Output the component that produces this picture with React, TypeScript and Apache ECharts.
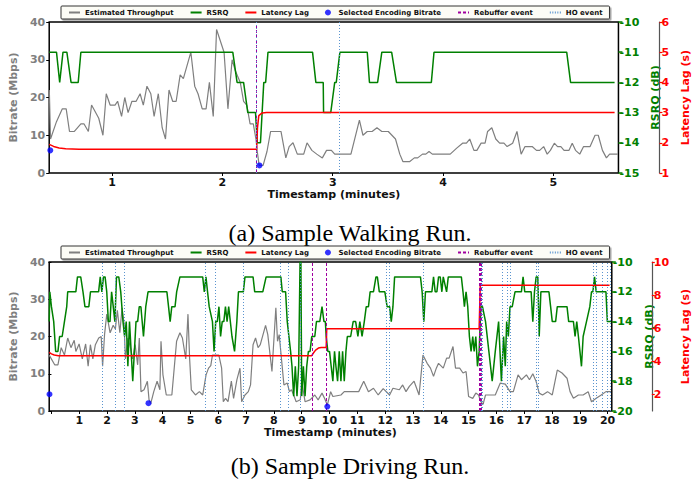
import React, { useEffect, useRef } from "react";
import * as echarts from "echarts";

// ---------------- (a) Walking run ----------------
const walkThroughput: number[][] = [
  [0.431, 22], [0.442, 9], [0.496, 13.6], [0.549, 17], [0.584, 17], [0.614, 11], [0.658, 11], [0.717, 13], [0.746, 13], [0.785, 11],
  [0.814, 18], [0.879, 14.5], [0.917, 10], [0.947, 21], [0.982, 18], [1.027, 18], [1.05, 19], [1.086, 15], [1.115, 20], [1.145, 16],
  [1.18, 19], [1.218, 19], [1.254, 21], [1.283, 18], [1.316, 23], [1.351, 21], [1.381, 15], [1.419, 21], [1.454, 12], [1.484, 9],
  [1.516, 22], [1.549, 19], [1.581, 19], [1.617, 26], [1.646, 25], [1.714, 32], [1.749, 23], [1.779, 21], [1.817, 17], [1.852, 17],
  [1.882, 24], [1.917, 15], [1.947, 38], [2.015, 32], [2.05, 17], [2.088, 30], [2.118, 27], [2.162, 24], [2.192, 19], [2.221, 18],
  [2.251, 13], [2.28, 13], [2.304, 9], [2.316, 5.7], [2.333, 2], [2.369, 2], [2.404, 5.7], [2.437, 11], [2.531, 11], [2.575, 4],
  [2.605, 7], [2.64, 8], [2.679, 5], [2.737, 5], [2.767, 8], [2.811, 6], [2.855, 5], [2.906, 4], [2.944, 6], [2.988, 6],
  [3.018, 5], [3.165, 5], [3.242, 14], [3.274, 10], [3.313, 11], [3.357, 11], [3.401, 12], [3.445, 11], [3.504, 11], [3.569, 9],
  [3.608, 5], [3.637, 3], [3.696, 3], [3.74, 4], [3.77, 4], [3.814, 5], [3.844, 5], [3.873, 5.7], [3.903, 5], [4.065, 5],
  [4.124, 6.6], [4.177, 7.9], [4.212, 7.9], [4.242, 9], [4.28, 6], [4.307, 6], [4.345, 7.9], [4.381, 7.9], [4.404, 11], [4.442, 12],
  [4.478, 9], [4.513, 7.9], [4.552, 7.9], [4.581, 7], [4.631, 7.9], [4.67, 11], [4.708, 5], [4.743, 7], [4.808, 7], [4.847, 6],
  [4.876, 6], [4.912, 7], [4.944, 5], [4.973, 6], [5.009, 7.9], [5.038, 7], [5.068, 7], [5.097, 6], [5.142, 6], [5.171, 7.9],
  [5.201, 6], [5.239, 5], [5.274, 7], [5.333, 7], [5.378, 10], [5.407, 10], [5.445, 6], [5.481, 4], [5.51, 5], [5.584, 5],
];
const walkRsrq: number[][] = [
  [0.43, -11], [0.496, -11], [0.525, -12], [0.555, -11], [0.59, -11], [0.628, -12], [0.693, -12], [0.717, -11], [2.094, -11], [2.133, -12],
  [2.192, -12], [2.23, -13], [2.3, -13], [2.316, -14], [2.345, -14], [2.375, -12], [2.392, -12], [2.413, -11], [2.817, -11], [2.847, -12],
  [2.914, -12], [2.917, -13], [2.982, -13], [3.018, -12], [3.032, -12], [3.065, -11], [3.313, -11], [3.333, -12], [3.407, -12], [3.445, -11],
  [3.534, -11], [3.578, -12], [3.894, -12], [3.918, -11], [5.121, -11], [5.156, -12], [5.555, -12],
];
const walkLatency: number[][] = [
  [0.43, 1.95], [0.47, 1.88], [0.52, 1.83], [0.58, 1.8], [0.7, 1.79], [2.31, 1.79], [2.318, 2.5], [2.33, 2.9], [2.36, 2.99], [2.4, 3.0], [5.555, 3.0],
];
const walkBitrate: number[][] = [[0.44, 6], [2.336, 2]];
const walkRebuffer: number[] = [2.315];
const walkHO: number[] = [2.308, 3.065];
const walkTicks: number[] = [1, 2, 3, 4, 5];

// ---------------- (b) Driving run ----------------
const driveThroughput: number[][] = [
  [-0.08, 15], [0.117, 12.4], [0.234, 12.4], [0.351, 17], [0.468, 15], [0.585, 19.6], [0.702, 17], [0.819, 19], [0.878, 16], [0.995, 18],
  [1.11, 14], [1.23, 18], [1.32, 12], [1.4, 17.8], [1.49, 14], [1.58, 17.8], [1.7, 19.6], [1.79, 20], [1.84, 12], [1.91, 20.5],
  [1.99, 26], [2.11, 21], [2.22, 23], [2.3, 22], [2.37, 27], [2.46, 21], [2.54, 27.7], [2.61, 23.6], [2.66, 14], [2.75, 19.6],
  [2.84, 17], [2.92, 14], [3.01, 17.8], [3.1, 12.4], [3.16, 19.6], [3.22, 5.2], [3.33, 5.7], [3.45, 8], [3.51, 3], [3.57, 2],
  [3.68, 5.2], [3.8, 8], [3.9, 5.7], [3.94, 18.7], [4.01, 9.7], [4.13, 4.3], [4.33, 4.3], [4.5, 18.7], [4.62, 21], [4.71, 19.6],
  [4.83, 14], [4.91, 26], [4.97, 14], [5.03, 5.7], [5.18, 4.3], [5.32, 5.2], [5.44, 4.3], [5.56, 9.7], [5.65, 11.5], [5.73, 12.2],
  [5.79, 15], [6.02, 15], [6.12, 11.5], [6.18, 2.5], [6.26, 3.4], [6.35, 2.5], [6.47, 8], [6.55, 3.4], [6.67, 8.4], [6.78, 11.5],
  [6.84, 2.5], [6.96, 4.3], [7.08, 5.2], [7.16, 7], [7.25, 17.8], [7.34, 19.6], [7.43, 17], [7.51, 17.8], [7.7, 23], [7.78, 20.5],
  [7.93, 10.6], [8.07, 27.7], [8.13, 18.7], [8.19, 20.5], [8.36, 7], [8.48, 7.5], [8.56, 5.2], [8.63, 5.7], [8.71, 4.3], [8.8, 2.5],
  [8.95, 3], [9.0, 8], [9.12, 2.5], [9.3, 3], [9.47, 4.3], [9.59, 3], [9.73, 4.8], [9.82, 3.4], [9.92, 1.6], [10.04, 5.2],
  [10.12, 3.9], [10.41, 4.3], [10.53, 5.2], [11.05, 5.2], [11.23, 8], [11.4, 5.2], [11.58, 6.1], [11.75, 4.3], [11.93, 6], [12.16, 4.3],
  [12.28, 6.1], [12.51, 5.7], [12.63, 7], [12.75, 5.2], [12.87, 6.6], [13.04, 8], [13.22, 4.3], [13.36, 15], [13.51, 12.8], [13.63, 11.5],
  [13.74, 9.3], [13.84, 11.5], [13.92, 12.8], [14.09, 11.5], [14.21, 14.2], [14.3, 14.2], [14.44, 17.3], [14.53, 11.5], [14.68, 11.5], [14.8, 10.2],
  [14.91, 10.6], [15.0, 3.9], [15.15, 3.4], [15.26, 4.8], [15.36, 4.3], [15.44, 2.5], [15.52, 1.8], [15.61, 4.3], [15.96, 4.3], [16.14, 7.5],
  [16.32, 7.2], [16.49, 5.2], [16.61, 5.2], [16.78, 9.7], [16.9, 8.4], [17.08, 9.7], [17.19, 8.4], [17.31, 10], [17.43, 7.9], [17.54, 4.8],
  [17.66, 4.3], [17.84, 5.2], [18.01, 4.3], [18.19, 11], [18.36, 10.2], [18.54, 8.8], [18.65, 5.2], [18.77, 3.4], [18.95, 4.3], [19.12, 4.3],
  [19.3, 5.2], [19.42, 2.5], [19.59, 3.4], [19.77, 4.3], [19.94, 5.2], [20.12, 5.2],
];
const driveRsrq: number[][] = [
  [-0.08, -14], [-0.058, -12], [0.0, -13], [0.082, -14], [0.152, -16], [0.234, -16], [0.293, -15], [0.386, -15], [0.468, -14], [0.55, -13],
  [0.585, -12], [0.878, -12], [0.936, -11], [1.053, -11], [1.135, -12], [1.205, -13], [1.345, -13], [1.404, -12], [1.696, -12], [1.755, -11],
  [1.813, -12], [1.872, -11], [1.93, -11], [1.989, -12], [2.047, -14], [2.106, -14], [2.164, -12], [2.223, -13], [2.281, -14], [2.34, -11],
  [2.422, -11], [2.492, -12], [2.573, -14], [2.632, -15], [2.69, -14], [2.749, -17], [2.807, -14], [2.866, -16], [2.924, -18], [2.983, -16],
  [3.041, -14], [3.1, -14], [3.158, -13], [3.217, -13], [3.31, -15], [3.392, -13], [3.474, -12], [4.152, -12], [4.211, -13], [4.269, -14],
  [4.328, -13], [4.445, -13], [4.503, -12], [4.62, -11], [5.439, -11], [5.497, -12], [5.556, -11], [5.614, -12], [5.673, -13], [5.79, -14],
  [5.848, -16], [5.907, -14], [5.965, -14], [6.024, -13], [6.082, -15], [6.141, -14], [6.199, -14], [6.258, -13], [6.316, -14], [6.374, -13],
  [6.492, -15], [6.585, -16], [6.667, -14], [6.725, -12], [6.9, -12], [6.96, -11], [7.25, -11], [7.31, -12], [7.6, -12], [7.72, -11],
  [8.25, -11], [8.3, -12], [8.42, -12], [8.48, -14], [8.54, -15], [8.6, -16], [8.65, -17], [8.71, -19], [8.77, -17], [8.83, -19],
  [8.89, -17], [8.94, -10], [8.97, -10], [9.0, -19], [9.06, -17], [9.12, -19], [9.18, -17], [9.24, -16], [9.3, -16], [9.36, -15],
  [9.47, -15], [9.53, -14], [9.65, -14], [9.73, -13], [9.8, -14], [9.85, -14], [9.88, -15], [9.94, -16], [10.0, -16], [10.06, -17],
  [10.12, -18], [10.18, -16], [10.23, -17], [10.29, -18], [10.35, -16], [10.41, -18], [10.47, -16], [10.53, -18], [10.59, -16], [10.64, -15],
  [10.76, -15], [10.85, -14], [10.94, -14], [11.02, -15], [11.09, -14], [11.17, -15], [11.25, -14], [11.32, -13], [11.4, -13], [11.46, -12],
  [11.58, -12], [11.67, -11], [11.72, -11], [11.79, -12], [11.99, -12], [12.07, -13], [12.16, -13], [12.22, -14], [12.28, -13], [12.34, -11],
  [13.27, -11], [13.33, -12], [13.39, -14], [13.45, -12], [13.68, -12], [13.74, -11], [13.8, -12], [13.86, -12], [13.92, -11], [13.98, -11],
  [14.04, -12], [14.09, -11], [14.21, -12], [14.27, -11], [14.74, -11], [14.8, -12], [14.85, -13], [14.91, -12], [14.97, -13], [15.03, -15],
  [15.09, -16], [15.15, -15], [15.2, -16], [15.26, -15], [15.32, -17], [15.38, -16], [15.44, -13], [15.5, -13], [15.61, -14], [15.73, -16],
  [15.85, -18], [15.96, -16], [16.08, -14], [16.18, -18], [16.26, -15], [16.32, -17], [16.37, -14], [16.43, -15], [16.49, -13], [16.57, -13],
  [16.67, -12], [16.9, -12], [16.96, -11], [17.02, -12], [17.25, -12], [17.31, -14], [17.37, -12], [17.43, -11], [17.49, -11], [17.54, -15],
  [17.6, -12], [17.89, -12], [17.95, -13], [18.01, -14], [18.13, -14], [18.19, -13], [18.54, -13], [18.6, -14], [18.77, -14], [18.83, -15],
  [18.89, -14], [18.95, -15], [19.06, -17], [19.12, -15], [19.24, -14], [19.36, -13], [19.42, -12], [19.47, -12], [19.53, -11], [19.59, -12],
  [19.94, -12], [19.99, -14], [20.12, -14],
];
const driveLatency: number[][] = [
  [-0.08, 4.54], [0.0, 4.45], [0.1, 4.38], [0.25, 4.34], [9.36, 4.34], [9.42, 4.5], [9.5, 4.68], [9.6, 4.8], [9.7, 4.84], [9.88, 4.84],
  [9.9, 5.97], [15.38, 5.97], [15.42, 8.6], [20.07, 8.6],
];
const driveBitrate: number[][] = [[-0.07, 4.5], [3.49, 2.1], [9.92, 1.2]];
const driveRebuffer: number[] = [9.38, 9.88, 15.38, 15.41, 15.44];
const driveHO: number[] = [1.81, 2.28, 2.61, 5.52, 5.88, 6.9, 8.23, 8.52, 8.96, 12.03, 12.15, 13.37, 15.46, 15.5, 16.2, 16.4, 16.5, 17.44, 17.52, 19.47, 19.58, 19.8, 20.0, 20.1];
const driveTicks: number[] = [0, 1, 2, 3, 4, 5, 6, 7, 8, 9, 10, 11, 12, 13, 14, 15, 16, 17, 18, 19, 20];
const driveLabels: number[] = [1, 2, 3, 4, 5, 6, 7, 8, 9, 10, 11, 12, 13, 14, 15, 16, 17, 18, 19, 20];

const rsrqTicksWalk: number[] = [-15, -14, -13, -12, -11, -10];
const rsrqTicksDrive: number[] = [-20, -18, -16, -14, -12, -10];
const latTicksWalk: number[] = [1, 2, 3, 4, 5, 6];
const latTicksDrive: number[] = [2, 4, 6, 8, 10];

const FONT = "DejaVu Sans";
const GRAY = "#7f7f7f";
const GREEN = "#008000";
const RED = "#ff0000";
const BLUE = "#0000ff";
const PURPLE = "#a000a0";
const LIGHTBLUE = "#5a94cf";

const names = ["Estimated Throughput", "RSRQ", "Latency Lag", "Selected Encoding Bitrate", "Rebuffer event", "HO event"];

function xAxisDef(grid: number, min: number, max: number, ticks: number[], labels: number[]) {
  return {
    type: "value", gridIndex: grid, min, max,
    axisLine: { show: false },
    splitLine: { show: false },
    axisTick: { show: true, customValues: ticks, length: 3, lineStyle: { color: "#000", width: 1 } },
    axisLabel: { customValues: labels, fontFamily: FONT, fontWeight: "bold", fontSize: 11, color: "#111", margin: 4 },
    name: "Timestamp (minutes)", nameLocation: "middle", nameGap: 16,
    nameTextStyle: { fontFamily: FONT, fontWeight: "bold", fontSize: 11, color: "#111" },
  };
}

function bitrateAxis(grid: number) {
  return {
    type: "value", gridIndex: grid, position: "left", min: 0, max: 40, interval: 10,
    axisLine: { show: false }, splitLine: { show: false },
    axisTick: { show: true, length: 3, lineStyle: { color: "#000" } },
    axisLabel: { fontFamily: FONT, fontWeight: "bold", fontSize: 11, color: GRAY, margin: 4 },
    name: "Bitrate (Mbps)", nameLocation: "middle", nameGap: 19, nameRotate: 90,
    nameTextStyle: { fontFamily: FONT, fontWeight: "bold", fontSize: 11, color: GRAY },
  };
}

function rsrqAxis(grid: number, min: number, ticks: number[], gap: number) {
  return {
    type: "value", gridIndex: grid, position: "right", min, max: -10,
    axisLine: { show: false }, splitLine: { show: false },
    axisTick: { show: true, customValues: ticks, length: 4, lineStyle: { color: GREEN, width: 1.5 } },
    axisLabel: { customValues: ticks, fontFamily: FONT, fontWeight: "bold", fontSize: 11, color: GREEN, margin: 1 },
    name: "RSRQ (dB)", nameLocation: "middle", nameGap: gap, nameRotate: 90,
    nameTextStyle: { fontFamily: FONT, fontWeight: "bold", fontSize: 11, color: GREEN },
  };
}

function latAxis(grid: number, max: number, ticks: number[], offset: number, gap: number) {
  return {
    type: "value", gridIndex: grid, position: "right", offset, min: 1, max,
    axisLine: { show: true, lineStyle: { color: "#555", width: 1.2 } }, splitLine: { show: false },
    axisTick: { show: true, customValues: ticks, length: 3, lineStyle: { color: RED, width: 1.2 } },
    axisLabel: { customValues: ticks, fontFamily: FONT, fontWeight: "bold", fontSize: 11, color: RED, margin: 2 },
    name: "Latency Lag (s)", nameLocation: "middle", nameGap: gap, nameRotate: 90,
    nameTextStyle: { fontFamily: FONT, fontWeight: "bold", fontSize: 11, color: RED },
  };
}

function seriesFor(grid: number, yBase: number, thr: number[][], rsrq: number[][], lat: number[][], br: number[][], reb: number[], ho: number[]) {
  return [
    { name: names[0], type: "line", xAxisIndex: grid, yAxisIndex: yBase, data: thr, symbol: "none", lineStyle: { color: GRAY, width: 1.2 }, itemStyle: { color: GRAY }, z: 2 },
    { name: names[1], type: "line", xAxisIndex: grid, yAxisIndex: yBase + 1, data: rsrq, symbol: "none", lineStyle: { color: GREEN, width: 1.5 }, itemStyle: { color: GREEN }, z: 3 },
    { name: names[2], type: "line", xAxisIndex: grid, yAxisIndex: yBase + 2, data: lat, symbol: "none", lineStyle: { color: RED, width: 1.5 }, itemStyle: { color: RED }, z: 4 },
    { name: names[3], type: "scatter", xAxisIndex: grid, yAxisIndex: yBase, data: br, symbol: "circle", symbolSize: 6, itemStyle: { color: BLUE }, z: 6 },
    {
      name: names[4], type: "line", xAxisIndex: grid, yAxisIndex: yBase, data: [], symbol: "none",
      lineStyle: { color: PURPLE, type: [3, 2], width: 1 }, itemStyle: { color: PURPLE },
      markLine: { symbol: ["none", "none"], silent: true, label: { show: false }, lineStyle: { color: PURPLE, type: [3, 2], width: 1 }, data: reb.map((x) => ({ xAxis: x })) },
      z: 5,
    },
    {
      name: names[5], type: "line", xAxisIndex: grid, yAxisIndex: yBase, data: [], symbol: "none",
      lineStyle: { color: LIGHTBLUE, type: [1, 1.5], width: 1 }, itemStyle: { color: LIGHTBLUE },
      markLine: { symbol: ["none", "none"], silent: true, label: { show: false }, lineStyle: { color: LIGHTBLUE, type: [1, 2], width: 1 }, data: ho.map((x) => ({ xAxis: x })) },
      z: 5,
    },
  ];
}

function legendAt(top: number) {
  const hidden = { opacity: 0, color: "transparent", borderWidth: 0 };
  return {
    data: [
      { name: names[0], itemStyle: hidden },
      { name: names[1], itemStyle: hidden },
      { name: names[2], itemStyle: hidden },
      { name: names[3] },
      { name: names[4], itemStyle: hidden },
      { name: names[5], itemStyle: hidden },
    ],
    left: 61, top, orient: "horizontal",
    itemWidth: 11, itemHeight: 6, itemGap: 16, padding: [3, 7],
    backgroundColor: "#fcfcf6", borderColor: "#333", borderWidth: 1, borderRadius: 1,
    shadowColor: "rgba(0,0,0,0.35)", shadowOffsetX: 1.5, shadowOffsetY: 1.5, shadowBlur: 0,
    selectedMode: false,
    textStyle: { fontFamily: FONT, fontWeight: "bold", fontSize: 7, color: "#111" },
  };
}

export default function App() {
  const ref = useRef<HTMLDivElement>(null);
  useEffect(() => {
    if (!ref.current) return;
    const chart = echarts.init(ref.current, undefined, { renderer: "svg" });
    const option: any = {
      animation: false,
      backgroundColor: "#ffffff",
      legend: [legendAt(6), legendAt(246)],
      grid: [
        { left: 43, top: 22, width: 583, height: 151, show: true, borderColor: "#000", borderWidth: 1.5, backgroundColor: "transparent" },
        { left: 43, top: 262, width: 576, height: 149, show: true, borderColor: "#000", borderWidth: 1.5, backgroundColor: "transparent" },
      ],
      xAxis: [
        xAxisDef(0, 0.43, 5.59, walkTicks, walkTicks),
        xAxisDef(1, -0.08, 20.15, driveTicks, driveLabels),
      ],
      yAxis: [
        bitrateAxis(0),
        rsrqAxis(0, -15, rsrqTicksWalk, 29),
        latAxis(0, 6, latTicksWalk, 41, 12),
        bitrateAxis(1),
        rsrqAxis(1, -20, rsrqTicksDrive, 30),
        latAxis(1, 10, latTicksDrive, 40, 20),
      ],
      graphic: [
        { type: "text", x: 350, y: 233, style: { text: "(a) Sample Walking Run.", fontFamily: "Liberation Serif", fontSize: 24, fill: "#000", align: "center", verticalAlign: "middle" } },
        { type: "text", x: 350, y: 466, style: { text: "(b) Sample Driving Run.", fontFamily: "Liberation Serif", fontSize: 24, fill: "#000", align: "center", verticalAlign: "middle" } },
      ],
      series: [
        ...seriesFor(0, 0, walkThroughput, walkRsrq, walkLatency, walkBitrate, walkRebuffer, walkHO),
        ...seriesFor(1, 3, driveThroughput, driveRsrq, driveLatency, driveBitrate, driveRebuffer, driveHO),
      ],
    };
    chart.setOption(option);
    return () => chart.dispose();
  }, []);
  return <div ref={ref} style={{ position: "fixed", left: 0, top: 0, width: 699, height: 481, background: "#fff" }} />;
}
